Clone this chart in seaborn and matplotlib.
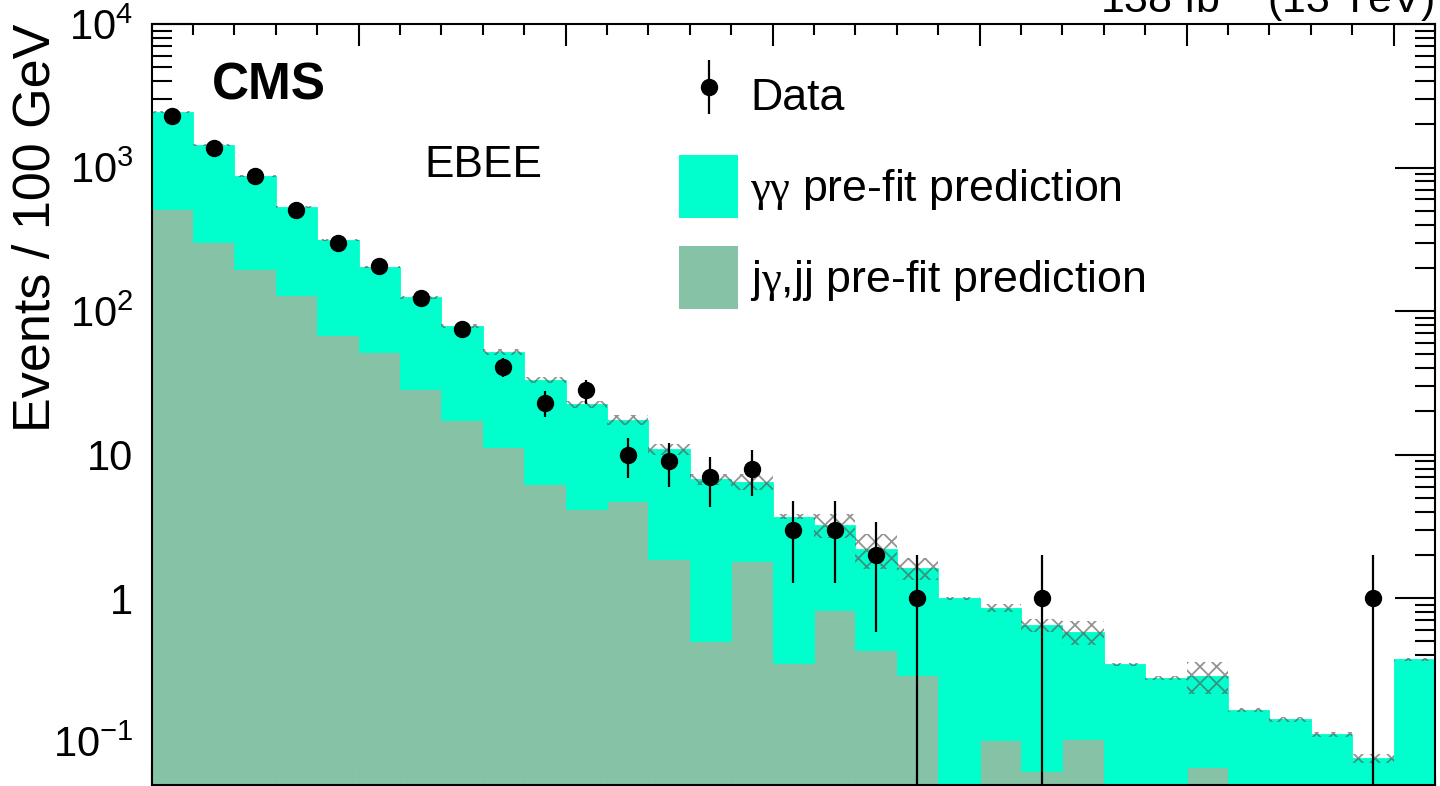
import numpy as np
import pandas as pd
import matplotlib
matplotlib.use("Agg")
import matplotlib.pyplot as plt
import seaborn as sns
from matplotlib.ticker import FixedLocator, FixedFormatter, MultipleLocator, LogLocator, NullFormatter
from matplotlib.patches import Patch
from matplotlib.legend_handler import HandlerErrorbar

# ---------------- data ----------------
mass_edges = np.arange(500, 3700, 100)          # 31 bins of 100 GeV
gg_label = r"$\mathsf{\gamma\gamma}$ pre-fit prediction"
jg_label = r"j$\mathsf{\gamma}$,jj pre-fit prediction"

gg_pred = [1926, 1134, 674, 402, 244, 151, 96.4, 61.1, 40.4, 26.8, 18.3, 12.7, 9.0,
           6.25, 4.68, 3.35, 2.41, 1.76, 1.33, 1.0, 0.757, 0.587, 0.481, 0.347, 0.28,
           0.22, 0.167, 0.143, 0.113, 0.0767, 0.376]
jg_pred = [514, 301, 198, 129, 68, 52, 28.6, 17.5, 11.4, 6.23, 4.17, 4.77, 1.89, 0.504,
           1.82, 0.356, 0.825, 0.434, 0.29, 0, 0.103, 0.0626, 0.105, 0, 0, 0.0672,
           0, 0, 0, 0, 0]
unc_frac = [0.016, 0.016, 0.016, 0.02, 0.02, 0.02, 0.025, 0.03, 0.05, 0.05, 0.058,
            0.075, 0.083, 0.083, 0.128, 0.04, 0.19, 0.27, 0.17, 0.024, 0.066, 0.10,
            0.19, 0.024, 0.033, 0.25, 0.033, 0.041, 0.041, 0.066, 0.024]
data_counts = [2290, 1368, 873, 506, 298, 206, 123, 75, 41, 23, 28, 10, 9, 7, 8, 3, 3,
               2, 1, 0, 0, 1, 0, 0, 0, 0, 0, 0, 0, 1, 0]
ytick_vals = [0.1, 1, 10, 100, 1000, 10000]
ytick_labels = [r"$10^{-1}$", "1", "10", r"$10^{2}$", r"$10^{3}$", r"$10^{4}$"]

# ---------------- style ----------------
sns.set_style("ticks")
plt.rcParams["font.family"] = ["Liberation Sans", "DejaVu Sans"]
plt.rcParams["mathtext.fontset"] = "custom"
plt.rcParams["mathtext.rm"] = "Liberation Sans"
plt.rcParams["mathtext.it"] = "Liberation Sans:italic"
plt.rcParams["mathtext.bf"] = "Liberation Sans:bold"
plt.rcParams["mathtext.sf"] = "Liberation Serif"
for k in ["text.color", "axes.labelcolor", "xtick.color", "ytick.color", "axes.edgecolor"]:
    plt.rcParams[k] = "black"
plt.rcParams["hatch.linewidth"] = 1.3
hatch_col = (0.35, 0.35, 0.35, 0.65)
plt.rcParams["hatch.color"] = hatch_col

c_gg = "#00FFCC"
c_jg = "#86C2A5"

W, H = 1440, 786
fig = plt.figure(figsize=(W / 100, H / 100), dpi=100)
ax = fig.add_axes([151.5 / W, 1 / H, (1435 - 151.5) / W, (785 - 24) / H])
ax.set_yscale("log")

centers = 0.5 * (mass_edges[:-1] + mass_edges[1:])
df = pd.DataFrame({
    "mass": np.concatenate([centers, centers]),
    "events": np.concatenate([gg_pred, jg_pred]),
    "process": [gg_label] * len(centers) + [jg_label] * len(centers),
})
sns.histplot(data=df, x="mass", weights="events", hue="process",
             hue_order=[gg_label, jg_label], multiple="stack",
             bins=len(centers), binrange=(float(mass_edges[0]), float(mass_edges[-1])),
             element="bars", palette={gg_label: c_gg, jg_label: c_jg},
             alpha=1, linewidth=0, legend=False, ax=ax, zorder=1)
for p in ax.patches:
    p.set_edgecolor(p.get_facecolor())
    p.set_linewidth(0.6)

# uncertainty band on total prediction
total = np.array(gg_pred) + np.array(jg_pred)
unc = total * np.array(unc_frac)
ax.bar(centers, 2 * unc, bottom=total - unc, width=np.diff(mass_edges),
       fill=False, hatch="xx", edgecolor=hatch_col, linewidth=0, zorder=2)

# data points
d = np.array(data_counts, dtype=float)
m = d > 0
eb = ax.errorbar(centers[m], d[m], yerr=np.sqrt(d[m]), fmt="o", color="black",
                 markersize=11.5, elinewidth=1.6, capsize=0, zorder=3)

# axes formatting
ax.set_xlim(mass_edges[0], mass_edges[-1])
ax.set_ylim(0.05, 1e4)
ax.xaxis.set_major_locator(MultipleLocator(500))
ax.xaxis.set_minor_locator(MultipleLocator(100))
ax.yaxis.set_major_locator(FixedLocator(ytick_vals))
ax.yaxis.set_major_formatter(FixedFormatter(ytick_labels))
ax.yaxis.set_minor_locator(LogLocator(base=10, subs=np.arange(2, 10)))
ax.yaxis.set_minor_formatter(NullFormatter())
ax.tick_params(axis="x", which="major", direction="in", length=15.8, width=1.5,
               top=True, bottom=True, labelbottom=False, color="black")
ax.tick_params(axis="x", which="minor", direction="in", length=7.9, width=1.5,
               top=True, bottom=True, color="black")
ax.tick_params(axis="y", which="major", direction="in", length=28.8, width=1.5,
               left=True, right=True, labelsize=30, pad=13, color="black",
               labelcolor="black")
ax.tick_params(axis="y", which="minor", direction="in", length=14.4, width=1.5,
               left=True, right=True, color="black")
for s in ax.spines.values():
    s.set_linewidth(1.5)
    s.set_color("black")
ax.set_xlabel("")
ax.set_ylabel("Events / 100 GeV", fontsize=37.5, loc="top", color="black")
ax.yaxis.set_label_coords((61 - 151.5) / 1283.5, 1.0)

# texts
fig.text(212 / W, 1 - 100 / H, "CMS", fontsize=37, fontweight="bold",
         ha="left", va="baseline", color="black")
fig.text(424 / W, 1 - 177 / H, "EBEE", fontsize=31.8, ha="left", va="baseline",
         color="black")
fig.text(1434 / W, 1 - 13 / H, r"138 fb$^{-1}$ (13 TeV)", fontsize=31,
         ha="right", va="baseline", color="black")

# legend
handles = [eb, Patch(facecolor=c_gg, edgecolor="none"),
           Patch(facecolor=c_jg, edgecolor="none")]
labels = ["Data", gg_label, jg_label]
fs = 32.2
fpx = fs * 100 / 72
leg = ax.legend(handles, labels, loc="upper left",
                bbox_to_anchor=(679 / W, 1 - 64 / H), bbox_transform=fig.transFigure,
                frameon=False, fontsize=fs, borderpad=0, borderaxespad=0,
                handlelength=59 / fpx, handleheight=1.8, handletextpad=12 / fpx,
                labelspacing=27.5 / fpx, labelcolor="black",
                handler_map={type(eb): HandlerErrorbar(yerr_size=0.6)})

fig.savefig("out.png", dpi=100)
